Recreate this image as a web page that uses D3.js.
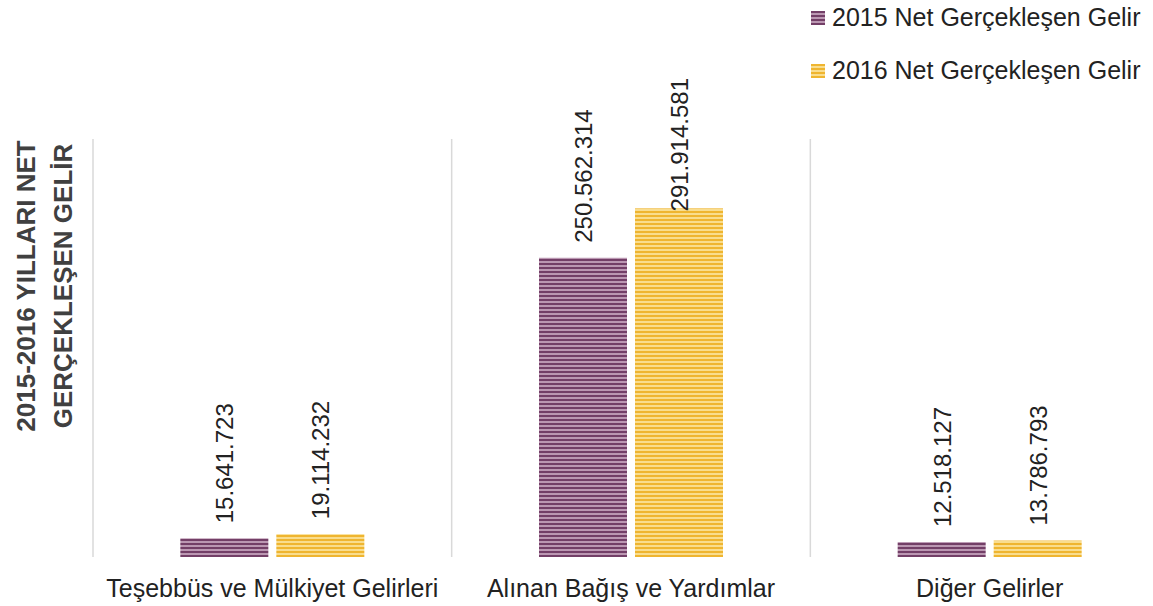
<!DOCTYPE html>
<html>
<head>
<meta charset="utf-8">
<script src="https://cdn.jsdelivr.net/npm/d3@7"></script>
<style>
  body { margin: 0; background: #fff; }
  svg { display: block; font-family: "Liberation Sans", Arial, sans-serif; }
</style>
</head>
<body>
<div id="chart-area"></div>
<script>
// chart values
var categories = ["Teşebbüs ve Mülkiyet Gelirleri", "Alınan Bağış ve Yardımlar", "Diğer Gelirler"];
var seriesNames = ["2015 Net Gerçekleşen Gelir", "2016 Net Gerçekleşen Gelir"];
var values2015 = [15641723, 250562314, 12518127];
var values2016 = [19114232, 291914581, 13786793];
var yTitle = ["2015-2016 YILLARI NET", "GERÇEKLEŞEN GELİR"];

var width = 1153, height = 606;
var margin = {left: 93, right: -16, top: 139, bottom: 49};
var plotW = width - margin.left - margin.right;
var plotH = height - margin.top - margin.bottom;
var labelTopLimit = 78 - margin.top;   // labels never go above this line

var svg = d3.select("#chart-area")
    .append("svg")
        .attr("width", width)
        .attr("height", height);

// striped fills
var defs = svg.append("defs");
var fills = [
    {id: "stripe2015", dark: "#733f67", light: "#bb97b2"},
    {id: "stripe2016", dark: "#efb530", light: "#f9dd8e"}
];
for (let f of fills) {
    let p = defs.append("pattern")
        .attr("id", f.id)
        .attr("patternUnits", "userSpaceOnUse")
        .attr("width", 8)
        .attr("height", 4);
    p.append("rect").attr("width", 8).attr("height", 4).attr("fill", f.light);
    p.append("rect").attr("y", 0).attr("width", 8).attr("height", 2).attr("fill", f.dark);
}

var g = svg.append("g")
    .attr("transform", "translate(" + margin.left + ", " + margin.top + ")");

// Scales
var x = d3.scaleBand()
    .range([0, plotW])
    .domain(categories);

var y = d3.scaleLinear()
    .range([plotH, 0])
    .domain([0, 350000000]);

var barW = 88, gap = 8;

// category separator lines
var bounds = categories.map(function(c) { return x(c); }).concat([plotW]);
g.selectAll("line.grid")
    .data(bounds)
    .enter().append("line")
        .attr("class", "grid")
        .attr("x1", function(d) { return d; })
        .attr("x2", function(d) { return d; })
        .attr("y1", 0)
        .attr("y2", plotH)
        .attr("stroke", "#d9d9d9")
        .attr("stroke-width", 1.5);

var series = [values2015, values2016];
var fmt = function(v) { return d3.format(",")(v).replace(/,/g, "."); };

series.forEach(function(vals, si) {
    var rows = categories.map(function(c, i) { return {cat: c, v: vals[i]}; });
    var bx = function(d) {
        var c = x(d.cat) + x.bandwidth() / 2;
        return si === 0 ? c - gap / 2 - barW : c + gap / 2;
    };
    g.selectAll("rect.s" + si)
        .data(rows)
        .enter().append("rect")
            .attr("class", "s" + si)
            .attr("x", bx)
            .attr("y", function(d) { return y(d.v); })
            .attr("width", barW)
            .attr("height", function(d) { return y(0) - y(d.v); })
            .attr("fill", "url(#" + fills[si].id + ")");

    g.selectAll("text.lbl" + si)
        .data(rows)
        .enter().append("text")
            .attr("class", "lbl" + si)
            .attr("font-size", "24px")
            .attr("fill", "#222")
            .text(function(d) { return fmt(d.v); })
            .attr("transform", function(d) {
                var len = this.getComputedTextLength();
                var end = y(d.v) - 15;
                if (end - len < labelTopLimit) end = labelTopLimit + len;
                return "translate(" + (bx(d) + barW / 2 + 9) + "," + end + ") rotate(-90)";
            });
});

// category labels
g.selectAll("text.cat")
    .data(categories)
    .enter().append("text")
        .attr("class", "cat")
        .attr("x", function(d) { return x(d) + x.bandwidth() / 2; })
        .attr("y", plotH + 40)
        .attr("text-anchor", "middle")
        .attr("font-size", "25px")
        .attr("fill", "#222")
        .text(function(d) { return d; });

// y title
var yt = svg.append("text")
    .attr("transform", "translate(35,286) rotate(-90)")
    .attr("text-anchor", "middle")
    .attr("font-size", "26px")
    .attr("font-weight", "bold")
    .attr("fill", "#404040");
yt.selectAll("tspan")
    .data(yTitle)
    .enter().append("tspan")
        .attr("x", 0)
        .attr("dy", function(d, i) { return i === 0 ? 0 : 37; })
        .text(function(d) { return d; });

// legend
var legend = svg.append("g").attr("transform", "translate(811,11)");
seriesNames.forEach(function(name, i) {
    var row = legend.append("g").attr("transform", "translate(0," + (i * 53) + ")");
    row.append("rect")
        .attr("width", 14)
        .attr("height", 14)
        .attr("fill", "url(#" + fills[i].id + ")");
    row.append("text")
        .attr("x", 21)
        .attr("y", 15)
        .attr("font-size", "25px")
        .attr("fill", "#222")
        .text(name);
});
</script>
</body>
</html>
